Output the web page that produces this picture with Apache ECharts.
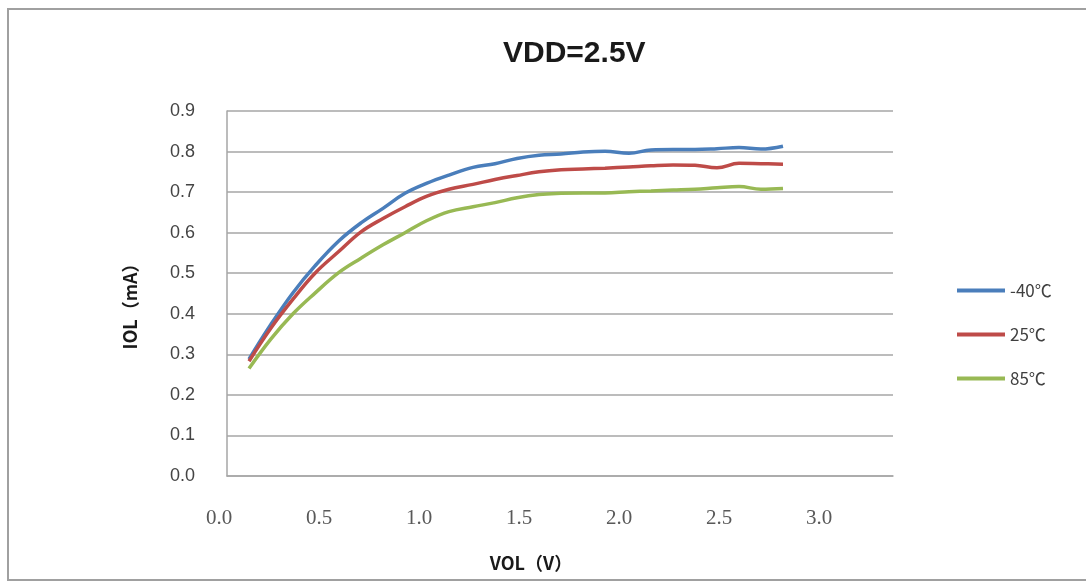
<!DOCTYPE html>
<html>
<head>
<meta charset="utf-8">
<script src="https://cdn.jsdelivr.net/npm/echarts@6/dist/echarts.min.js"></script>
<style>
  html, body { margin: 0; padding: 0; background: #fff; }
  #main { width: 1086px; height: 583px; }
</style>
</head>
<body>
<div id="main"></div>
<script>
// VOL (V), as read against the printed axis labels
var vol = [0.15, 0.26, 0.37, 0.48, 0.60, 0.71, 0.82, 0.93, 1.04, 1.15, 1.27, 1.38, 1.49,
           1.60, 1.71, 1.82, 1.93, 2.05, 2.16, 2.27, 2.38, 2.49, 2.60, 2.71, 2.82];
// IOL (mA)
var iolM40 = [0.288, 0.374, 0.452, 0.518, 0.580, 0.624, 0.660, 0.697, 0.722, 0.742, 0.761, 0.770, 0.783,
              0.791, 0.794, 0.799, 0.801, 0.796, 0.804, 0.805, 0.805, 0.807, 0.810, 0.806, 0.813];
var iol25 = [0.283, 0.365, 0.436, 0.500, 0.554, 0.602, 0.635, 0.664, 0.690, 0.707, 0.719, 0.731, 0.741,
             0.750, 0.755, 0.757, 0.759, 0.762, 0.765, 0.767, 0.766, 0.760, 0.771, 0.770, 0.769];
var iol85 = [0.265, 0.338, 0.400, 0.451, 0.502, 0.537, 0.570, 0.600, 0.630, 0.652, 0.664, 0.674, 0.686,
             0.694, 0.697, 0.698, 0.698, 0.701, 0.703, 0.705, 0.707, 0.711, 0.714, 0.707, 0.709];
var seriesNames = ['-40℃', '25℃', '85℃'];
var xTicks = ['0.0', '0.5', '1.0', '1.5', '2.0', '2.5', '3.0'];

function pairs(ys) {
    return vol.map(function (x, i) { return [x, ys[i]]; });
}

var chart = echarts.init(document.getElementById('main'));
var gridColor = '#a6a6a6';
var cjk = "'Noto Sans CJK SC', 'Open Sans', sans-serif";

function line(name, ys, color) {
    return {
        name: name,
        type: 'line',
        xAxisIndex: 1,
        yAxisIndex: 1,
        data: pairs(ys),
        symbol: 'none',
        smooth: 0.4,
        lineStyle: { color: color, width: 3.5 },
        itemStyle: { color: color }
    };
}

chart.setOption({
    animation: false,
    backgroundColor: '#fff',
    title: {
        text: 'VDD=2.5V',
        left: 498,
        top: 34,
        textStyle: { fontFamily: 'Liberation Sans', fontWeight: 'bold', fontSize: 30, color: '#1a1a1a' }
    },
    graphic: [{
        type: 'rect',
        shape: { x: 8, y: 9, width: 1090, height: 571 },
        style: { fill: 'none', stroke: '#a0a0a0', lineWidth: 2 },
        silent: true
    }],
    legend: {
        orient: 'vertical',
        left: 952,
        top: 277,
        icon: 'rect',
        itemWidth: 48,
        itemHeight: 4,
        itemGap: 27,
        textStyle: { fontFamily: cjk, fontSize: 17, color: '#404040' },
        data: seriesNames
    },
    grid: [
        { left: 227, right: 193, top: 111, bottom: 107 },
        { left: 219, right: 193, top: 111, bottom: 107 }
    ],
    xAxis: [{
        gridIndex: 0,
        type: 'value',
        min: 0,
        max: 1,
        axisLine: { show: true, lineStyle: { color: gridColor, width: 1.5 } },
        axisTick: { show: false },
        axisLabel: { show: false },
        splitLine: { show: false }
    }, {
        gridIndex: 1,
        type: 'value',
        min: 0,
        max: 3.37,
        interval: 0.5,
        axisLine: { show: false },
        axisTick: { show: false },
        splitLine: { show: false },
        axisLabel: {
            margin: 32,
            fontFamily: 'Liberation Serif',
            fontSize: 21,
            color: '#595959',
            formatter: function (v) {
                var i = Math.round(v / 0.5);
                return (Math.abs(v - i * 0.5) < 1e-6 && i < xTicks.length) ? xTicks[i] : '';
            }
        },
        name: 'VOL（V）',
        nameLocation: 'middle',
        nameGap: 78,
        nameTextStyle: { fontFamily: cjk, fontWeight: 'bold', fontSize: 18, color: '#1a1a1a', padding: [0, 50, 0, 0] }
    }],
    yAxis: [{
        gridIndex: 0,
        type: 'value',
        min: 0,
        max: 0.9,
        interval: 0.1,
        axisLine: { show: true, lineStyle: { color: gridColor, width: 1.5 } },
        axisTick: { show: false },
        splitLine: { lineStyle: { color: gridColor, width: 1.5 } },
        axisLabel: {
            margin: 32,
            fontFamily: 'Liberation Sans',
            fontSize: 18,
            color: '#444',
            formatter: function (v) { return v.toFixed(1); }
        },
        name: 'IOL（mA）',
        nameLocation: 'middle',
        nameRotate: 90,
        nameGap: 88,
        nameTextStyle: { fontFamily: cjk, fontWeight: 'bold', fontSize: 18, color: '#1a1a1a', padding: [0, 17, 0, 0] }
    }, {
        gridIndex: 1,
        type: 'value',
        min: 0,
        max: 0.9,
        show: false
    }],
    series: [
        line(seriesNames[0], iolM40, '#4a7ebb'),
        line(seriesNames[1], iol25, '#be4b48'),
        line(seriesNames[2], iol85, '#98b954')
    ]
});
</script>
</body>
</html>
